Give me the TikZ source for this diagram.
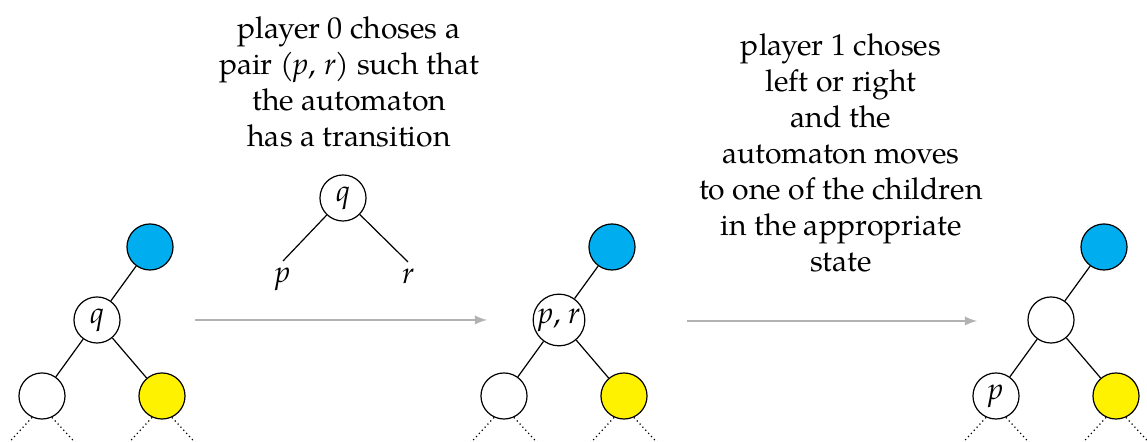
\documentclass[tikz,border=0pt]{standalone}
\usepackage{fontspec}
\setmainfont{TeX Gyre Pagella}

\begin{document}
\begin{tikzpicture}[x=0.3322pt, y=0.3322pt,
    state/.style={circle, draw, inner sep=0.5pt, minimum size=15.3pt},
    future/.style={densely dotted},
    move/.style={->, >=latex, black!30}]
  % colors
  \definecolor{rootblue}{RGB}{0,174,239}
  \definecolor{leafyellow}{RGB}{255,242,0}

  \useasboundingbox (0,0) rectangle (1147,442);

  % the three trees (x of the middle node, its label, label of left child, name)
  \foreach \x/\lm/\ll/\n in {97/\textit{q}//a, 559/{\textit{p}, \textit{r}}//b, 1051//\textit{p}/c} {
    \node[state] (m\n) at (\x,122) {\lm};
    \node[state, fill=rootblue] (t\n) at (\x+53,195) {};
    \node[state] (l\n) at (\x-55,46) {\ll};
    \node[state, fill=leafyellow] (y\n) at (\x+65,46) {};
    \draw (t\n) -- (m\n);
    \draw (m\n) -- (l\n);
    \draw (m\n) -- (y\n);
    % rest of the tree
    \foreach \c in {l\n, y\n} {
      \draw[future] (\c.-115) -- ++(-23,-25);
      \draw[future] (\c.-65) -- ++(23,-25);
    }
  }

  % transition
  \node[state] (q) at (343,244) {\textit{q}};
  \coordinate (pe) at (283,181);
  \coordinate (re) at (408,180);
  \draw (q) -- (pe);
  \draw (q) -- (re);
  \node[below, inner sep=2pt] (pl) at (pe) {\textit{p}};
  \node[below, inner sep=2pt] (rl) at (re) {\textit{r}};

  % moves
  \coordinate (s1) at (195,122);
  \coordinate (e1) at (487,122);
  \coordinate (s2) at (687,121);
  \coordinate (e2) at (977,121);
  \draw[move] (s1) -- (e1);
  \draw[move] (s2) -- (e2);

  % labels
  \node[align=center] (say0) at (349,360) {player 0 choses a\\pair (\textit{p}, \textit{r}) such that\\the automaton\\has a transition};
  \node[align=center] (say1) at (841,289) {player 1 choses\\left or right\\and the\\automaton moves\\to one of the children\\in the appropriate\\state};
\end{tikzpicture}
\end{document}
